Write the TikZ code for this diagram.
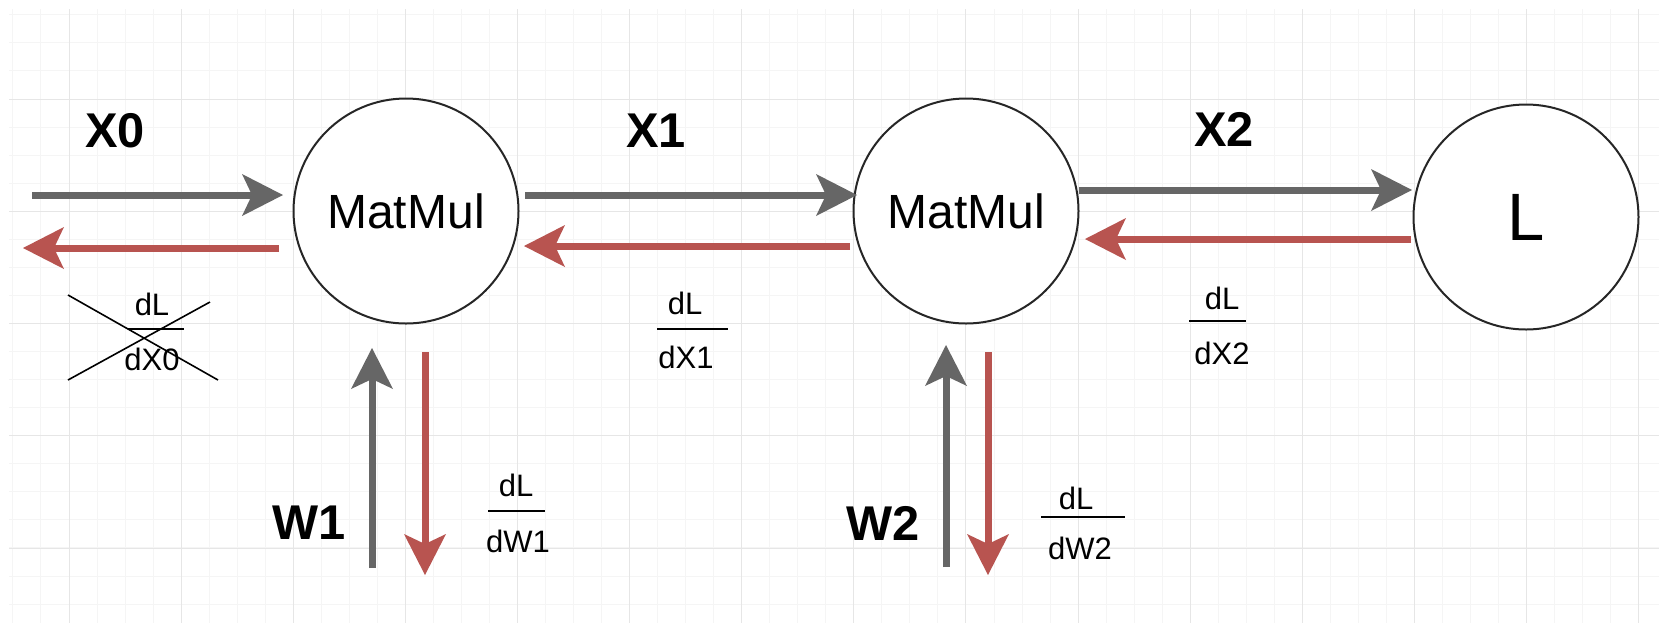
\documentclass[tikz,border=0pt]{standalone}
\usepackage{fontspec}
\setmainfont{Liberation Sans}
\usetikzlibrary{arrows.meta,calc}
\definecolor{fwd}{HTML}{666666}
\definecolor{bwd}{HTML}{B85450}
\definecolor{gridmaj}{HTML}{E6E6E6}
\definecolor{gridmin}{HTML}{F5F5F5}
\begin{document}
\begin{tikzpicture}[x=0.5pt,y=-0.5pt,
  opnode/.style={circle, draw=black!85, line width=1pt, minimum size=112.5pt, inner sep=0pt, fill=white, font=\fontsize{24}{28}\selectfont},
  varlabel/.style={font=\bfseries\fontsize{24.4}{28}\selectfont, inner sep=0pt},
  fractxt/.style={font=\fontsize{15.5}{18}\selectfont, inner sep=0pt},
  fwdarrow/.style={draw=fwd, line width=3.5pt, -{Stealth[length=20.5pt,width=21pt,inset=5pt,line width=0pt]}},
  bwdarrow/.style={draw=bwd, line width=3.5pt, -{Stealth[length=20.5pt,width=21pt,inset=5pt,line width=0pt]}},
  fracbar/.style={draw=black, line width=1pt},
  strike/.style={draw=black, line width=0.8pt},
  minorgrid/.style={draw=gridmin, line width=0.5pt},
  majorgrid/.style={draw=gridmaj, line width=0.5pt}
]
\useasboundingbox (0,0) rectangle (1659,623);
\fill[white] (0,0) rectangle (1659,623);
% grid
\foreach \i in {-2,...,56} \draw[minorgrid] ({69+28.03*\i},9) -- ({69+28.03*\i},623);
\foreach \j in {-3,...,18} \draw[minorgrid] (9,{99+28.06*\j}) -- (1659,{99+28.06*\j});
\foreach \i in {0,...,14} \draw[majorgrid] ({69+112.12*\i},9) -- ({69+112.12*\i},623);
\foreach \j in {0,...,4} \draw[majorgrid] (9,{99+112.25*\j}) -- (1659,{99+112.25*\j});

% nodes
\node[opnode] (m1) at (406,211) {MatMul};
\node[opnode] (m2) at (966,211) {MatMul};
\node[opnode, font=\fontsize{33.5}{38}\selectfont] (loss) at (1526,217) {L};

% free ends
\coordinate (x0in) at (32,195);
\coordinate (x0out) at (23,248);
\coordinate (w1in) at (372,568);
\coordinate (w1out) at (425,575);
\coordinate (w2in) at (946,567);
\coordinate (w2out) at (988,575);

% arrows
\draw[fwdarrow] (x0in) -- ($(m1)+(-123,-16)$);
\draw[bwdarrow] ($(m1)+(-127,37)$) -- (x0out);
\draw[fwdarrow] ($(m1)+(119,-16)$) -- ($(m2)+(-109,-16)$);
\draw[bwdarrow] ($(m2)+(-116,35)$) -- ($(m1)+(118,35)$);
\draw[fwdarrow] ($(m2)+(113,-21)$) -- ($(loss)+(-114,-27)$);
\draw[bwdarrow] ($(loss)+(-115,22)$) -- ($(m2)+(119,28)$);
\draw[fwdarrow] (w1in) -- ($(m1)+(-34,137)$);
\draw[bwdarrow] ($(m1)+(19,141)$) -- (w1out);
\draw[fwdarrow] (w2in) -- ($(m2)+(-20,134)$);
\draw[bwdarrow] ($(m2)+(22,141)$) -- (w2out);

% variable labels
\node[varlabel] (lx0) at (115,131) {X0};
\node[varlabel] (lx1) at (656,131) {X1};
\node[varlabel] (lx2) at (1224,129) {X2};
\node[varlabel] (lw1) at (309,523) {W1};
\node[varlabel] (lw2) at (883,523) {W2};

% fractions
\node[fractxt] (n0) at (152,304) {dL};
\node[fractxt] (d0) at (152,359) {dX0};
\draw[fracbar] (128,329) -- (184,329);
\draw[strike] (68,295) -- (218,380);
\draw[strike] (210,302) -- (68,380);

\node[fractxt] (n1) at (685,303) {dL};
\node[fractxt] (d1) at (686,357) {dX1};
\draw[fracbar] (657,329) -- (728,329);

\node[fractxt] (n2) at (1222,298) {dL};
\node[fractxt] (d2) at (1222,353) {dX2};
\draw[fracbar] (1189,321) -- (1246,321);

\node[fractxt] (nw1) at (516,485) {dL};
\node[fractxt] (dw1) at (518,541) {dW1};
\draw[fracbar] (488,511) -- (545,511);

\node[fractxt] (nw2) at (1076,498) {dL};
\node[fractxt] (dw2) at (1080,548) {dW2};
\draw[fracbar] (1041,517) -- (1125,517);
\end{tikzpicture}
\end{document}
